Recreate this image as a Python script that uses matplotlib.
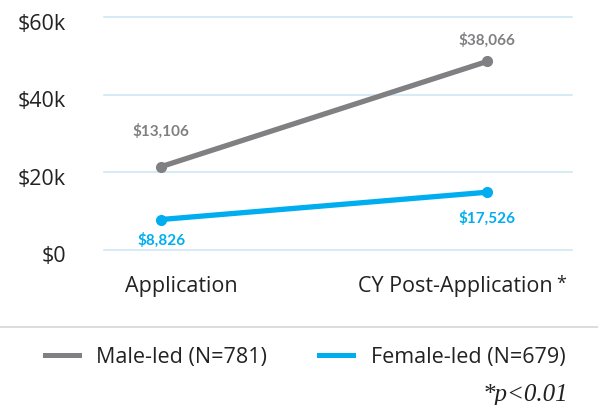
import matplotlib
matplotlib.use("Agg")
import matplotlib.pyplot as plt
from matplotlib.lines import Line2D

# Data
periods = ["Application", "CY Post-Application"]
male_vals = [21400, 48600]
female_vals = [7750, 14800]
male_labels = ["$13,106", "$38,066"]
female_labels = ["$8,826", "$17,526"]
yticks = [0, 20000, 40000, 60000]
ytick_labels = ["$0", "$20k", "$40k", "$60k"]
legend_labels = ["Male-led (N=781)", "Female-led (N=679)"]

grey = "#808083"
blue = "#00aeef"
grid_col = "#cfe8f5"
text_col = "#222222"
font = "Open Sans"
bold_font = "Lato"

fig = plt.figure(figsize=(5.98, 4.06), dpi=100, facecolor="white")
ax = fig.add_axes([104/598, 1-250.5/406, (572-104)/598, (250.5-18.3)/406])
ax.set_xlim(-0.175, 1.26)
ax.set_ylim(0, 60000)
for s in ax.spines.values():
    s.set_visible(False)
ax.set_xticks([])
ax.set_yticks([])

# grid + y labels
for y, lab in zip(yticks, ytick_labels):
    ax.axhline(y, color=grid_col, lw=1.2, clip_on=False, zorder=0)
    ax.annotate(lab, (-0.081, y), xycoords=ax.get_yaxis_transform(),
                xytext=(0, -4.5), textcoords="offset points",
                ha="right", va="center", fontsize=15.5, color=text_col, family=font)

x = [0, 1]
ax.plot(x, male_vals, color=grey, lw=3.8, marker="o", ms=7, solid_capstyle="butt", zorder=3)
ax.plot(x, female_vals, color=blue, lw=3.8, marker="o", ms=7, solid_capstyle="butt", zorder=3)

male_off = [(0, 26.5), (0, 16)]
female_off = [(0, -14), (0, -18)]
for i in range(2):
    ax.annotate(male_labels[i], (x[i], male_vals[i]), xytext=male_off[i],
                textcoords="offset points", ha="center", va="center",
                fontsize=11, fontweight="bold", color=grey, family=bold_font)
    ax.annotate(female_labels[i], (x[i], female_vals[i]), xytext=female_off[i],
                textcoords="offset points", ha="center", va="center",
                fontsize=11, fontweight="bold", color=blue, family=bold_font)

# category labels
fig.text(181.5/598, 1-287/406, periods[0], ha="center", va="center",
         fontsize=15.5, color=text_col, family=font)
fig.text(553/598, 1-287/406, periods[1], ha="right", va="center",
         fontsize=15.5, color=text_col, family=font)
fig.text(556/598, 1-284/406, "*", ha="left", va="center",
         fontsize=13, color=text_col, family=font)

# separator
fig.add_artist(Line2D([0, 1], [1-328/406, 1-328/406], color="#d6d6d6", lw=1.2,
                      transform=fig.transFigure))

handles = [Line2D([], [], color=grey, lw=3.6), Line2D([], [], color=blue, lw=3.6)]
fig.legend(handles, legend_labels, loc="center", bbox_to_anchor=(305/598, 1-358/406),
           ncol=2, frameon=False, prop={"family": font, "size": 15.5},
           handlelength=1.6, handletextpad=0.8, columnspacing=2.4, labelcolor=text_col)

fig.text(568/598, 1-395/406, "*p<0.01", ha="right", va="center", fontsize=18,
         style="italic", family="Liberation Serif", color=text_col)

fig.savefig("out.png", dpi=100)
